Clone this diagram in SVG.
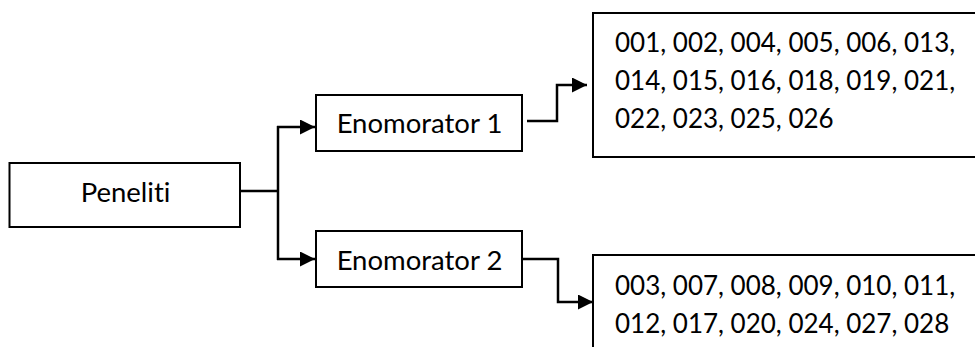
<svg xmlns="http://www.w3.org/2000/svg" width="975" height="347" viewBox="0 0 975 347">
  <defs>
    <marker id="arrow" viewBox="0 0 15 15" refX="15" refY="7.5" markerWidth="15" markerHeight="15" markerUnits="userSpaceOnUse" orient="auto">
      <path d="M0,0 L15,7.5 L0,15 Z" fill="#000"/>
    </marker>
  </defs>
  <style>
    .box { fill: #fff; stroke: #000; stroke-width: 2; }
    .label { font-family: Lato, "Liberation Sans", sans-serif; font-size: 26px; fill: #000; font-variant-ligatures: none; font-feature-settings: "liga" 0, "dlig" 0; }
    .mid { text-anchor: middle; font-size: 27.5px; }
    .link { fill: none; stroke: #000; stroke-width: 2.5; marker-end: url(#arrow); }
    .line { fill: none; stroke: #000; stroke-width: 2.5; }
  </style>
  <rect width="975" height="347" fill="#fff"/>

  <g id="connectors">
    <polyline class="line" points="240,191 278,191"/>
    <polyline class="line" points="278,126 278,260"/>
    <polyline class="link" points="277,127 315,127"/>
    <polyline class="link" points="277,259 315,259"/>
    <polyline class="link" points="527,121 557,121 557,85 587,85"/>
    <polyline class="link" points="522,259 558,259 558,302 593,302"/>
  </g>

  <g id="peneliti">
    <rect class="box" x="9.5" y="163" width="230.5" height="64"/>
    <text class="label mid" x="125.5" y="202">Peneliti</text>
  </g>

  <g id="enomorator-1">
    <rect class="box" x="316" y="95" width="206" height="56"/>
    <text class="label mid" x="419.5" y="133">Enomorator 1</text>
  </g>

  <g id="enomorator-2">
    <rect class="box" x="316" y="231" width="206" height="56"/>
    <text class="label mid" x="419.5" y="270">Enomorator 2</text>
  </g>

  <g id="group-1">
    <rect class="box" x="593" y="13" width="400" height="144"/>
    <text class="label" x="615" y="52">001, 002, 004, 005, 006, 013,</text>
    <text class="label" x="615" y="90">014, 015, 016, 018, 019, 021,</text>
    <text class="label" x="615" y="128">022, 023, 025, 026</text>
  </g>

  <g id="group-2">
    <rect class="box" x="593" y="255" width="400" height="120"/>
    <text class="label" x="615" y="295">003, 007, 008, 009, 010, 011,</text>
    <text class="label" x="615" y="333">012, 017, 020, 024, 027, 028</text>
  </g>
</svg>
